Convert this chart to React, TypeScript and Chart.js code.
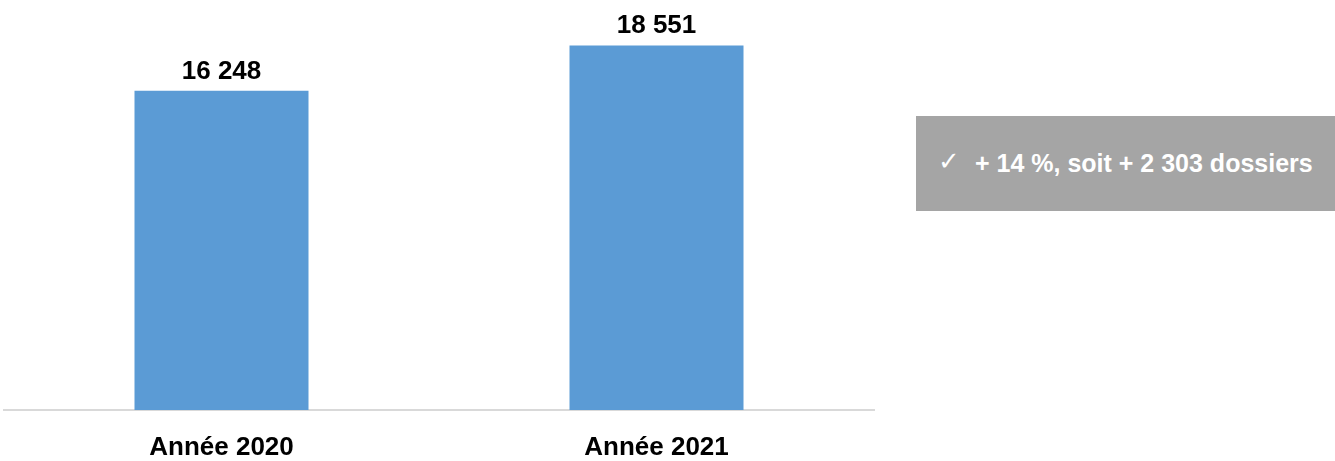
import React, { useEffect, useRef } from "react";
import { Chart, registerables } from "chart.js";

Chart.register(...registerables);

const categories: string[] = ["Année 2020", "Année 2021"];
const dossiers: number[] = [16248, 18551];
const valueLabels: string[] = ["16 248", "18 551"];
const calloutText = "+ 14 %, soit + 2 303 dossiers";

const FONT = "'Liberation Sans', Arial, sans-serif";

const valueLabelPlugin = {
  id: "valueLabels",
  afterDatasetsDraw(chart: any) {
    const ctx = chart.ctx;
    const meta = chart.getDatasetMeta(0);
    ctx.save();
    ctx.font = `bold 26px ${FONT}`;
    ctx.fillStyle = "#000000";
    ctx.textAlign = "center";
    ctx.textBaseline = "alphabetic";
    meta.data.forEach((bar: any, i: number) => {
      ctx.fillText(valueLabels[i], bar.x, bar.y - 12);
    });
    ctx.restore();
  },
};

export default function App() {
  const canvasRef = useRef<HTMLCanvasElement | null>(null);

  useEffect(() => {
    if (!canvasRef.current) return;
    const chart = new Chart(canvasRef.current, {
      type: "bar",
      data: {
        labels: categories,
        datasets: [
          {
            data: dossiers,
            backgroundColor: "#5b9bd5",
            borderWidth: 0,
            categoryPercentage: 1,
            barPercentage: 0.4,
          },
        ],
      },
      options: {
        animation: false,
        responsive: false,
        devicePixelRatio: 1,
        layout: { padding: { left: 4, right: 6, top: 17, bottom: 0 } },
        plugins: {
          legend: { display: false },
          tooltip: { enabled: false },
        },
        scales: {
          x: {
            grid: { display: false, drawTicks: false },
            border: { display: true, color: "#d9d9d9", width: 2 },
            ticks: {
              color: "#000000",
              padding: 22,
              font: { family: FONT, size: 26, weight: "bold" },
            },
            afterFit: (scale: any) => {
              scale.height = 51;
            },
          },
          y: {
            display: false,
            min: 0,
            max: 20000,
          },
        },
      },
      plugins: [valueLabelPlugin],
    });
    return () => chart.destroy();
  }, []);

  return (
    <div
      style={{
        position: "fixed",
        left: 0,
        top: 0,
        width: 1335,
        height: 461,
        background: "#ffffff",
        overflow: "hidden",
      }}
    >
      <canvas
        ref={canvasRef}
        width={880}
        height={461}
        style={{ position: "absolute", left: 0, top: 0, width: 880, height: 461 }}
      />
      <div
        style={{
          position: "absolute",
          left: 916,
          top: 116,
          width: 419,
          height: 95,
          background: "#a5a5a5",
          color: "#ffffff",
          display: "flex",
          alignItems: "center",
          fontFamily: FONT,
          whiteSpace: "nowrap",
        }}
      >
        <span
          style={{
            fontFamily: "'DejaVu Sans', sans-serif",
            fontSize: 26,
            lineHeight: "26px",
            marginLeft: 22,
            width: 37,
            marginTop: -6,
            display: "inline-block",
          }}
        >
          ✓
        </span>
        <span style={{ fontWeight: "bold", fontSize: 25 }}>{calloutText}</span>
      </div>
    </div>
  );
}
